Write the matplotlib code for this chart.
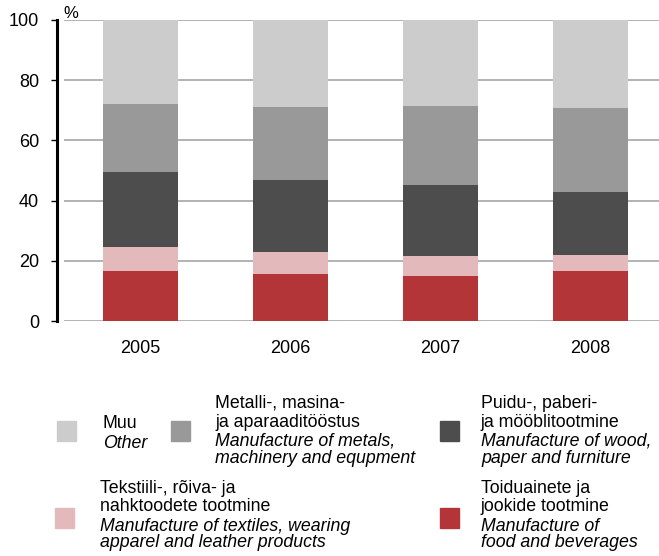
import matplotlib
matplotlib.use("Agg")
import matplotlib.pyplot as plt
from matplotlib.patches import Rectangle
import numpy as np

plt.rcParams['font.family'] = ['Liberation Sans', 'DejaVu Sans']

years = ['2005', '2006', '2007', '2008']

# shares, % (bottom to top)
food = [16.6, 15.6, 15.0, 16.6]
textiles = [8.0, 7.3, 6.6, 5.3]
wood = [24.9, 23.9, 23.6, 21.0]
metals = [22.6, 24.3, 26.2, 27.9]
other = [27.9, 28.9, 28.6, 29.2]

series = [food, textiles, wood, metals, other]
colors = ['#b33538', '#e3b9bb', '#4d4d4d', '#999999', '#cccccc']

yticks = [0, 20, 40, 60, 80, 100]

W, H = 659, 556

def fx(px):
    return px / W

def fy(py):
    return 1 - py / H

fig = plt.figure(figsize=(W / 100, H / 100), dpi=100)
ax = fig.add_axes([fx(64), fy(321), 1 - fx(64), (321 - 20) / H])

x = np.arange(len(years))
bottom = np.zeros(len(years))
for vals, col in zip(series, colors):
    ax.bar(x, vals, width=0.5, bottom=bottom, color=col, zorder=3)
    bottom += np.array(vals)

ax.set_xlim(-0.507, 3.46)
ax.set_ylim(0, 100)
ax.set_yticks(yticks)
ax.set_xticks(x)
ax.set_xticklabels(years)
ax.yaxis.grid(True, color='#a6a6a6', linewidth=1.2, zorder=0)
ax.set_axisbelow(True)

for s in ['top', 'right', 'bottom']:
    ax.spines[s].set_visible(False)
ax.spines['left'].set_position(('outward', 5))
ax.spines['left'].set_linewidth(2.2)
ax.tick_params(axis='y', length=4, width=1, pad=9, labelsize=13)
ax.tick_params(axis='x', length=0, pad=14, labelsize=13)

fig.text(fx(63), fy(18), '%', fontsize=12, va='baseline', ha='left')

# legend: (color, square x, square top, text x, lines with baseline)
legend_items = [
    ('#cccccc', 57, 421, 103,
     [('Muu', False, 428), ('Other', True, 448)]),
    ('#999999', 171, 421, 215,
     [('Metalli-, masina-', False, 408), ('ja aparaaditööstus', False, 427),
      ('Manufacture of metals,', True, 446), ('machinery and equpment', True, 463)]),
    ('#4d4d4d', 440, 421, 481,
     [('Puidu-, paberi-', False, 408), ('ja mööblitootmine', False, 427),
      ('Manufacture of wood,', True, 446), ('paper and furniture', True, 463)]),
    ('#e3b9bb', 55, 508, 100,
     [('Tekstiili-, rõiva- ja', False, 493), ('nahktoodete tootmine', False, 511),
      ('Manufacture of textiles, wearing', True, 531), ('apparel and leather products', True, 547)]),
    ('#b33538', 440, 508, 481,
     [('Toiduainete ja', False, 493), ('jookide tootmine', False, 511),
      ('Manufacture of', True, 531), ('food and beverages', True, 547)]),
]

for col, sx, sy, tx, lines in legend_items:
    fig.patches.append(Rectangle((fx(sx), fy(sy + 20)), 19 / W, 20 / H,
                                 transform=fig.transFigure, color=col))
    for txt, ital, base in lines:
        fig.text(fx(tx), fy(base), txt, fontsize=12.8, va='baseline', ha='left',
                 style='italic' if ital else 'normal')

fig.savefig('out.png', dpi=100)
